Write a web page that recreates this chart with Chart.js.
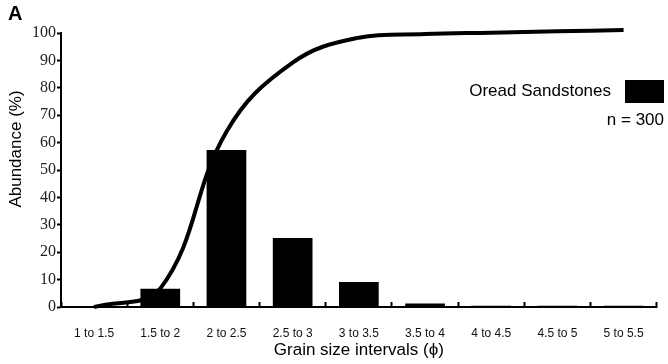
<!DOCTYPE html>
<html>
<head>
<meta charset="utf-8">
<script src="https://cdn.jsdelivr.net/npm/chart.js@4.4.1/dist/chart.umd.min.js"></script>
<style>
  html, body { margin: 0; padding: 0; background: #fff; }
  #wrap { width: 668px; height: 364px; position: relative; }
</style>
</head>
<body>
<div id="wrap"><canvas id="chart"></canvas></div>
<script>
// grain size classes (phi)
const categories = ['1 to 1.5', '1.5 to 2', '2 to 2.5', '2.5 to 3', '3 to 3.5', '3.5 to 4', '4 to 4.5', '4.5 to 5', '5 to 5.5'];
// abundance per class (%)
const abundance = [0, 6.7, 57.3, 25.2, 9.1, 1.3, 0.5, 0.5, 0.5];
// cumulative curve (%)
const cumulative = [0, 6.7, 64.0, 89.2, 98.3, 99.6, 100.1, 100.6, 101.1];
const yTicks = [0, 10, 20, 30, 40, 50, 60, 70, 80, 90, 100];

const seriesName = 'Oread Sandstones';
const sampleNote = 'n = 300';
const panelLabel = 'A';
const yTitle = 'Abundance (%)';
const xTitle = 'Grain size intervals (\u03d5)';

const sans = '"Liberation Sans", Arial, sans-serif';

// extra text: panel letter, y title, legend box
const annotations = {
    id: 'annotations',
    afterDraw(chart) {
        const c = chart.ctx;
        c.save();
        c.fillStyle = '#000';

        c.font = 'bold 20px ' + sans;
        c.textAlign = 'left';
        c.textBaseline = 'alphabetic';
        c.fillText(panelLabel, 8, 20);

        c.font = '17px ' + sans;
        c.save();
        c.translate(21, 149);
        c.rotate(-Math.PI / 2);
        c.textAlign = 'center';
        c.textBaseline = 'alphabetic';
        c.fillText(yTitle, 0, 0);
        c.restore();

        c.textAlign = 'right';
        c.textBaseline = 'middle';
        c.fillText(seriesName, 611, 91);
        c.fillRect(625, 80, 39, 23);
        c.fillText(sampleNote, 664, 120);
        c.restore();
    }
};

new Chart(document.getElementById('chart'), {
    type: 'bar',
    data: {
        labels: categories,
        datasets: [
            {
                type: 'line',
                label: 'Cumulative',
                data: cumulative,
                borderColor: '#000',
                borderWidth: 4,
                pointRadius: 0,
                tension: 0.4,
                clip: false,
                order: 0
            },
            {
                label: seriesName,
                data: abundance,
                backgroundColor: '#000',
                borderWidth: 0,
                categoryPercentage: 1.0,
                barPercentage: 0.6,
                order: 1
            }
        ]
    },
    options: {
        responsive: true,
        maintainAspectRatio: false,
        animation: false,
        layout: {padding: {top: 33, right: 7, left: 0, bottom: 0}},
        plugins: {
            legend: {display: false},
            tooltip: {enabled: false}
        },
        scales: {
            x: {
                grid: {
                    display: true,
                    offset: true,
                    drawOnChartArea: false,
                    drawTicks: true,
                    tickLength: -5,
                    tickWidth: 2,
                    tickColor: '#000'
                },
                border: {display: true, color: '#000', width: 2},
                ticks: {
                    color: '#111',
                    padding: 24,
                    maxRotation: 0,
                    font: {family: sans, size: 12}
                },
                title: {
                    display: true,
                    text: xTitle,
                    color: '#000',
                    font: {family: sans, size: 17},
                    padding: {top: 0, bottom: 3}
                },
                afterFit(scale) { scale.height = 57; }
            },
            y: {
                min: 0,
                max: 100,
                afterBuildTicks(scale) {
                    scale.ticks = yTicks.map(v => ({value: v}));
                },
                grid: {
                    display: true,
                    drawOnChartArea: false,
                    tickLength: 4,
                    tickWidth: 2,
                    tickColor: '#000'
                },
                border: {display: true, color: '#000', width: 2},
                ticks: {
                    color: '#222',
                    padding: 1,
                    font: {family: '"Liberation Serif", "DejaVu Serif", serif', size: 16}
                },
                afterFit(scale) { scale.width = 61; }
            }
        }
    },
    plugins: [annotations]
});
</script>
</body>
</html>
